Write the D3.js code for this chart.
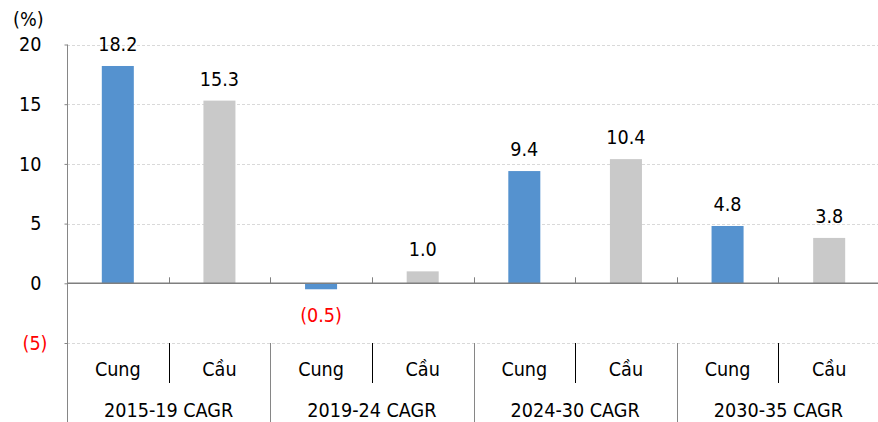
<!DOCTYPE html>
<html>
<head>
<meta charset="utf-8">
<script src="https://cdn.jsdelivr.net/npm/d3@7"></script>
<style>
  html, body { margin: 0; padding: 0; background: #fff; }
  svg { display: block; }
  text { font-family: "DejaVu Sans Condensed", "DejaVu Sans", sans-serif; font-stretch: condensed; fill: #000; }
</style>
</head>
<body>
<svg id="chart" width="878" height="422"></svg>
<script>
// Growth rates (%) by period: supply (Cung) vs demand (Cầu)
const periods = ["2015-19 CAGR", "2019-24 CAGR", "2024-30 CAGR", "2030-35 CAGR"];
const seriesNames = ["Cung", "Cầu"];
const cungValues = [18.2, -0.5, 9.4, 4.8];
const cauValues = [15.3, 1.0, 10.4, 3.8];
const yTicks = [-5, 0, 5, 10, 15, 20];

const W = 878, H = 422;
const left = 67, right = 880;
const fontSize = 19.6;

const svg = d3.select("#chart");

const y = d3.scaleLinear().domain([-5, 20]).range([343, 44.5]);
const xGroup = d3.scaleBand().domain(periods).range([left, right]).padding(0);
const xSeries = d3.scaleBand().domain(seriesNames).range([0, xGroup.bandwidth()])
  .paddingInner(0.685).paddingOuter(0.3425);

const colors = { "Cung": "#5592cf", "Cầu": "#c9c9c9" };

const rows = [];
periods.forEach((p, i) => {
  rows.push({ period: p, series: "Cung", value: cungValues[i] });
  rows.push({ period: p, series: "Cầu", value: cauValues[i] });
});

// dashed horizontal gridlines
svg.append("g")
  .selectAll("line")
  .data(yTicks.filter(t => t !== 0))
  .join("line")
  .attr("x1", left).attr("x2", W)
  .attr("y1", d => Math.round(y(d)) + 0.5).attr("y2", d => Math.round(y(d)) + 0.5)
  .attr("stroke", "#d9d9d9").attr("stroke-width", 1)
  .attr("stroke-dasharray", "3,2");

// bars
svg.append("g")
  .selectAll("rect")
  .data(rows)
  .join("rect")
  .attr("x", d => xGroup(d.period) + xSeries(d.series))
  .attr("width", xSeries.bandwidth())
  .attr("y", d => y(Math.max(0, d.value)))
  .attr("height", d => Math.abs(y(d.value) - y(0)))
  .attr("fill", d => colors[d.series]);

// value labels
const fmt = v => v < 0 ? "(" + d3.format(".1f")(-v) + ")" : d3.format(".1f")(v);
svg.append("g")
  .selectAll("text")
  .data(rows)
  .join("text")
  .attr("x", d => xGroup(d.period) + xSeries(d.series) + xSeries.bandwidth() / 2)
  .attr("y", d => d.value >= 0 ? y(d.value) - 15 : y(d.value) + 33)
  .attr("text-anchor", "middle")
  .attr("font-size", fontSize)
  .style("fill", d => d.value < 0 ? "#ff0000" : "#000")
  .text(d => fmt(d.value));

// y axis
const yAxis = d3.axisLeft(y).tickValues(yTicks).tickSize(3).tickPadding(20)
  .tickFormat(d => d < 0 ? "(" + (-d) + ")" : d);
const gy = svg.append("g").attr("transform", `translate(${left + 0.5},0)`).call(yAxis);
gy.select(".domain").remove();
gy.selectAll(".tick line").attr("stroke", "#868686");
gy.selectAll(".tick text")
  .attr("font-size", fontSize)
  .attr("font-family", null)
  .attr("x", d => d < 0 ? -20 : -26)
  .style("fill", d => d < 0 ? "#ff0000" : "#000");

// vertical axis line, running down through the category table
svg.append("line")
  .attr("x1", left + 0.5).attr("x2", left + 0.5)
  .attr("y1", y(20)).attr("y2", H)
  .attr("stroke", "#868686").attr("stroke-width", 1);

// zero baseline with small upward ticks at each category boundary
const zeroY = y(0);
svg.append("line")
  .attr("x1", left).attr("x2", W)
  .attr("y1", zeroY).attr("y2", zeroY)
  .attr("stroke", "#7f7f7f").attr("stroke-width", 1.5);
const boundaries = [];
periods.forEach(p => {
  boundaries.push(xGroup(p) + xGroup.bandwidth() / 2);
  boundaries.push(xGroup(p) + xGroup.bandwidth());
});
svg.append("g")
  .selectAll("line")
  .data(boundaries)
  .join("line")
  .attr("x1", d => Math.round(d) + 0.5).attr("x2", d => Math.round(d) + 0.5)
  .attr("y1", zeroY - 6).attr("y2", zeroY)
  .attr("stroke", "#7f7f7f").attr("stroke-width", 1);

// category table below the plot
const tableTop = y(-5);
svg.append("g")
  .selectAll("line")
  .data(periods)
  .join("line")
  .attr("x1", d => Math.round(xGroup(d) + xGroup.bandwidth() / 2) + 0.5)
  .attr("x2", d => Math.round(xGroup(d) + xGroup.bandwidth() / 2) + 0.5)
  .attr("y1", tableTop).attr("y2", 383)
  .attr("stroke", "#000").attr("stroke-width", 1);
svg.append("g")
  .selectAll("line")
  .data(periods.slice(0, -1))
  .join("line")
  .attr("x1", d => Math.round(xGroup(d) + xGroup.bandwidth()) + 0.5)
  .attr("x2", d => Math.round(xGroup(d) + xGroup.bandwidth()) + 0.5)
  .attr("y1", tableTop).attr("y2", H)
  .attr("stroke", "#868686").attr("stroke-width", 1);

svg.append("g")
  .selectAll("text")
  .data(rows)
  .join("text")
  .attr("x", d => xGroup(d.period) + xSeries(d.series) + xSeries.bandwidth() / 2)
  .attr("y", 376)
  .attr("text-anchor", "middle")
  .attr("font-size", fontSize)
  .text(d => d.series);

svg.append("g")
  .selectAll("text")
  .data(periods)
  .join("text")
  .attr("x", d => xGroup(d) + xGroup.bandwidth() / 2)
  .attr("y", 417)
  .attr("text-anchor", "middle")
  .attr("font-size", fontSize)
  .text(d => d);

// unit label
svg.append("text")
  .attr("x", 13).attr("y", 26)
  .attr("font-size", fontSize)
  .text("(%)");
</script>
</body>
</html>
